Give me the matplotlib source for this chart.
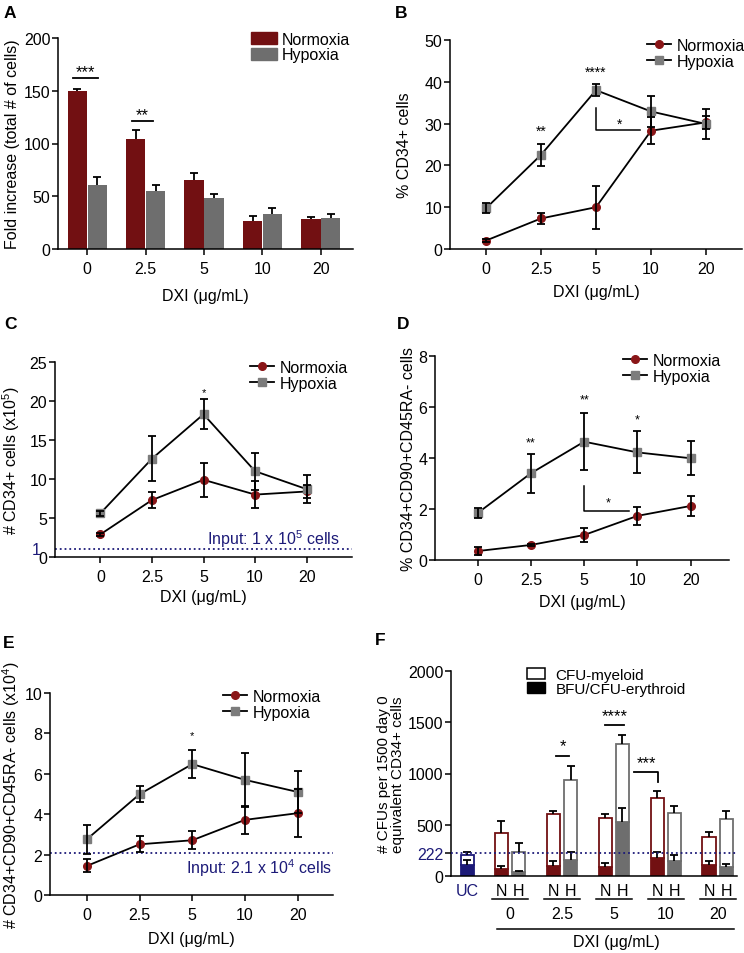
import matplotlib
matplotlib.use('Agg')
import matplotlib.pyplot as plt
import numpy as np
from matplotlib.lines import Line2D
from matplotlib.patches import Patch

plt.rcParams['font.family'] = ['Liberation Sans', 'DejaVu Sans']
plt.rcParams['mathtext.default'] = 'regular'
plt.rcParams['axes.linewidth'] = 1.1

RED = '#721012'
RED_M = '#8a1618'
GRAY = '#6e6e6e'
GRAY_M = '#7c7c7c'
NAVY = '#1c1a78'
FS = 11.5

doses = ['0', '2.5', '5', '10', '20']
labels_cond = ['Normoxia', 'Hypoxia']

# A: fold increase
foldN = [150, 104, 65, 27, 28]
foldN_err = [1.5, 9, 7.5, 4, 2.5]
foldH = [61, 55, 48, 33, 29]
foldH_err = [7, 6, 4, 5.5, 4.5]

# B: % CD34+
pctN = [2.0, 7.3, 10.0, 28.3, 30.3]
pctN_err = [0.3, 1.4, 5.1, 3.2, 1.5]
pctH = [9.7, 22.5, 38.0, 32.9, 29.9]
pctH_err = [1.2, 2.7, 1.5, 3.6, 3.7]

# C: # CD34+ cells (x1e5)
numN = [2.9, 7.3, 9.9, 8.0, 8.4]
numN_err = [0.2, 1.0, 2.2, 1.7, 0.8]
numH = [5.6, 12.6, 18.3, 11.0, 8.7]
numH_err = [0.3, 2.9, 1.95, 2.35, 1.8]

# D: % CD34+CD90+CD45RA-
pct2N = [0.35, 0.59, 0.98, 1.73, 2.12]
pct2N_err = [0.15, 0.04, 0.27, 0.35, 0.38]
pct2H = [1.84, 3.4, 4.64, 4.22, 3.99]
pct2H_err = [0.2, 0.77, 1.13, 0.82, 0.66]

# E: # CD34+CD90+CD45RA- cells (x1e4)
num2N = [1.44, 2.51, 2.71, 3.72, 4.05]
num2N_err = [0.32, 0.4, 0.45, 0.7, 1.2]
num2H = [2.76, 4.99, 6.48, 5.7, 5.1]
num2H_err = [0.72, 0.4, 0.7, 1.35, 1.05]

# F: CFUs  (order: UC, N0, H0, N2.5, H2.5, N5, H5, N10, H10, N20, H20)
cfu_labels = ['UC', 'N', 'H', 'N', 'H', 'N', 'H', 'N', 'H', 'N', 'H']
ery = [110, 68, 36, 98, 160, 89, 523, 180, 142, 110, 90]
ery_err = [43, 30, 16, 45, 70, 40, 140, 56, 60, 38, 25]
myeloid = [98, 348, 201, 504, 781, 474, 765, 584, 469, 275, 469]
total_err = [22, 117, 88, 35, 129, 39, 91, 65, 72, 47, 75]

W, H = 744, 954
fig = plt.figure(figsize=(W / 100, H / 100), dpi=100)


def add_ax(left, right, top, bottom):
    return fig.add_axes([left / W, 1 - bottom / H, (right - left) / W, (bottom - top) / H])


def style(ax):
    ax.spines['top'].set_visible(False)
    ax.spines['right'].set_visible(False)
    ax.tick_params(direction='out', length=4, width=1.1, labelsize=FS)
    ax.tick_params(axis='y', pad=1.5)
    ax.tick_params(axis='x', pad=5)


def onesided(ax, x, y, err, **kw):
    eb = ax.errorbar(x, y, yerr=[np.zeros(len(err)), err], fmt='none', ecolor='black',
                     elinewidth=1.3, capsize=3.2, capthick=1.3, **kw)
    eb[1][0].set_visible(False)
    return eb


def line_panel(ax, yN, eN, yH, eH):
    x = np.arange(len(doses))
    for y, e, mk, c in [(yN, eN, 'o', RED_M), (yH, eH, 's', GRAY_M)]:
        ax.plot(x, y, color='black', lw=1.3, zorder=2)
        ax.plot(x, y, mk, color=c, ms=5.5, zorder=3)
        ax.errorbar(x, y, yerr=e, fmt='none', ecolor='black', elinewidth=1.3,
                    capsize=3.2, capthick=1.3, zorder=4)
    ax.set_xticks(x)
    ax.set_xticklabels(doses)
    style(ax)


def line_legend(ax, xf, yf):
    hN = Line2D([], [], color='black', lw=1.3, marker='o', mfc=RED_M, mec=RED_M, ms=5.5)
    hH = Line2D([], [], color='black', lw=1.3, marker='s', mfc=GRAY_M, mec=GRAY_M, ms=5.5)
    ax.legend([hN, hH], labels_cond, loc='upper left', bbox_to_anchor=(xf, yf), frameon=False,
              fontsize=FS, handlelength=1.5, handletextpad=0.35, labelspacing=0.05,
              borderpad=0, borderaxespad=0)


def stars(ax, x, y, s, fs=11):
    ax.text(x, y, s, ha='center', va='center', fontsize=fs)


XLBL = 'DXI (\u03bcg/mL)'

# ---------------- A ----------------
axA = add_ax(58, 353, 39, 250)
xa = np.arange(len(doses))
bw = 0.33
axA.bar(xa - 0.17, foldN, bw, color=RED, zorder=2)
axA.bar(xa + 0.17, foldH, bw, color=GRAY, zorder=2)
onesided(axA, xa - 0.17, foldN, foldN_err, zorder=1)
onesided(axA, xa + 0.17, foldH, foldH_err, zorder=1)
axA.set_xlim(-0.5, 4.55)
axA.set_ylim(0, 200)
axA.set_yticks([0, 50, 100, 150, 200])
axA.set_xticks(xa)
axA.set_xticklabels(doses)
style(axA)
axA.set_ylabel('Fold increase (total # of cells)', fontsize=FS)
axA.yaxis.set_label_coords(-0.13, 0.5)
axA.set_xlabel(XLBL, fontsize=FS)
axA.xaxis.set_label_coords(0.5, -0.185)
axA.plot([-0.24, 0.18], [162, 162], color='black', lw=1.3)
stars(axA, -0.03, 168, '***', 12)
axA.plot([1 - 0.23, 1 + 0.12], [121, 121], color='black', lw=1.3)
stars(axA, 1 - 0.06, 127, '**', 12)
axA.legend([Patch(color=RED), Patch(color=GRAY)], labels_cond, loc='upper left',
           bbox_to_anchor=(0.655, 1.03), frameon=False, fontsize=FS, handlelength=1.6,
           handleheight=0.8, handletextpad=0.3, labelspacing=0.05, borderpad=0, borderaxespad=0)

# ---------------- B ----------------
axB = add_ax(450, 742, 41, 250)
line_panel(axB, pctN, pctN_err, pctH, pctH_err)
axB.set_xlim(-0.65, 4.65)
axB.set_ylim(0, 50)
axB.set_yticks([0, 10, 20, 30, 40, 50])
axB.set_ylabel('% CD34+ cells', fontsize=FS)
axB.yaxis.set_label_coords(-0.13, 0.5)
axB.set_xlabel(XLBL, fontsize=FS)
axB.xaxis.set_label_coords(0.5, -0.167)
stars(axB, 1, 28.3, '**', 10)
stars(axB, 2, 42.4, '****', 10)
axB.plot([2, 2, 2.8], [33.8, 28.5, 28.5], color='black', lw=1.1)
stars(axB, 2.42, 29.9, '*', 10)
line_legend(axB, 0.675, 1.01)

# ---------------- C ----------------
axC = add_ax(55, 352, 363, 558)
line_panel(axC, numN, numN_err, numH, numH_err)
axC.set_xlim(-0.88, 4.88)
axC.set_ylim(0, 25)
axC.set_yticks([0, 5, 10, 15, 20, 25])
axC.axhline(1, color=NAVY, ls=':', lw=1.3)
axC.text(-0.05, 1.0, '1', transform=axC.get_yaxis_transform(), ha='right', va='center',
         color=NAVY, fontsize=FS)
axC.text(4.64, 2.4, 'Input: 1 x 10$^5$ cells', ha='right', va='center', color=NAVY, fontsize=FS)
axC.set_ylabel('# CD34+ cells (x10$^5$)', fontsize=FS)
axC.yaxis.set_label_coords(-0.11, 0.5)
axC.set_xlabel(XLBL, fontsize=FS)
axC.xaxis.set_label_coords(0.5, -0.164)
stars(axC, 2, 21.2, '*', 8)
line_legend(axC, 0.657, 1.01)

# ---------------- D ----------------
axD = add_ax(435, 729, 357, 561)
line_panel(axD, pct2N, pct2N_err, pct2H, pct2H_err)
axD.set_xlim(-0.8, 4.72)
axD.set_ylim(0, 8)
axD.set_yticks([0, 2, 4, 6, 8])
axD.set_ylabel('% CD34+CD90+CD45RA- cells', fontsize=FS)
axD.yaxis.set_label_coords(-0.065, 0.5)
axD.set_xlabel(XLBL, fontsize=FS)
axD.xaxis.set_label_coords(0.5, -0.167)
stars(axD, 1, 4.6, '**', 9)
stars(axD, 2, 6.3, '**', 9)
stars(axD, 3, 5.5, '*', 9)
axD.plot([2, 2, 2.85], [2.9, 1.93, 1.93], color='black', lw=1.1)
stars(axD, 2.46, 2.26, '*', 9)
line_legend(axD, 0.639, 1.015)

# ---------------- E ----------------
axE = add_ax(50, 333, 694, 896)
line_panel(axE, num2N, num2N_err, num2H, num2H_err)
axE.set_xlim(-0.7, 4.67)
axE.set_ylim(0, 10)
axE.set_yticks([0, 2, 4, 6, 8, 10])
axE.axhline(2.1, color=NAVY, ls=':', lw=1.3)
axE.text(0.995, 1.39, 'Input: 2.1 x 10$^4$ cells', transform=axE.get_yaxis_transform(),
         ha='right', va='center', color=NAVY, fontsize=FS)
axE.set_ylabel('# CD34+CD90+CD45RA- cells (x10$^4$)', fontsize=FS)
axE.yaxis.set_label_coords(-0.099, 0.5)
axE.set_xlabel(XLBL, fontsize=FS)
axE.xaxis.set_label_coords(0.5, -0.178)
stars(axE, 2, 7.9, '*', 8)
line_legend(axE, 0.611, 1.02)

# ---------------- F ----------------
axF = add_ax(451, 737, 672, 877)
group_c = np.arange(1, 6)
xf = [0.18]
for c in group_c:
    xf += [c - 0.165, c + 0.165]
xf = np.array(xf)
colsF = [NAVY] + [RED, GRAY] * 5
fw = 0.26
bottom_tot = np.array(ery) + np.array(myeloid)
axF.bar(xf, ery, fw, color=colsF, edgecolor=colsF, lw=1.3, zorder=2)
axF.bar(xf, myeloid, fw, bottom=ery, color='white', edgecolor=colsF, lw=1.3, zorder=2)
onesided(axF, xf, bottom_tot, total_err, zorder=3)
onesided(axF, xf, ery, ery_err, zorder=3)
axF.axhline(222, color=NAVY, ls=':', lw=1.3, zorder=4)
axF.set_xlim(-0.137, 5.37)
axF.set_ylim(0, 2000)
axF.set_yticks([0, 222, 500, 1000, 1500, 2000])
style(axF)
axF.set_xticks([])
axF.get_yticklabels()[1].set_color(NAVY)
axF.set_ylabel('# CFUs per 1500 day 0\nequivalent CD34+ cells', fontsize=11, linespacing=1.0)
axF.yaxis.set_label_coords(-0.161, 0.5)
tr = axF.get_xaxis_transform()
for x, lab, c in zip(xf, cfu_labels, colsF):
    axF.text(x, -0.073, lab, transform=tr, ha='center', va='center', fontsize=FS,
             color=NAVY if lab == 'UC' else 'black')
for c, d in zip(group_c, doses):
    axF.plot([c - 0.35, c + 0.35], [-0.112, -0.112], transform=tr, color='black', lw=1.1,
             clip_on=False)
    axF.text(c, -0.185, d, transform=tr, ha='center', va='center', fontsize=FS)
axF.plot([0.75, 5.31], [-0.259, -0.259], transform=tr, color='black', lw=1.1, clip_on=False)
axF.text(3.05, -0.32, XLBL, transform=tr, ha='center', va='center', fontsize=FS)
axF.plot([1.886, 2.136], [1171, 1171], color='black', lw=1.3)
stars(axF, 2.01, 1275, '*', 12)
axF.plot([2.83, 3.19], [1470, 1470], color='black', lw=1.3)
stars(axF, 3.01, 1561, '****', 12)
axF.plot([3.385, 3.84, 3.84], [1015, 1015, 917], color='black', lw=1.3)
stars(axF, 3.62, 1106, '***', 12)
axF.legend([Patch(facecolor='white', edgecolor='black', lw=1.1), Patch(color='black')],
           ['CFU-myeloid', 'BFU/CFU-erythroid'], loc='upper left', bbox_to_anchor=(0.266, 1.015),
           frameon=False, fontsize=11, handlelength=1.15, handleheight=0.75, handletextpad=0.7,
           labelspacing=0.0, borderpad=0, borderaxespad=0)

# panel letters
for lab, (px, py) in zip('ABCDEF', [(4, 6), (395, 6), (4, 317), (397, 317), (3, 636), (375, 633)]):
    fig.text(px / W, 1 - py / H, lab, fontsize=12.5, fontweight='bold', ha='left', va='top')

fig.savefig('out.png', dpi=100)
